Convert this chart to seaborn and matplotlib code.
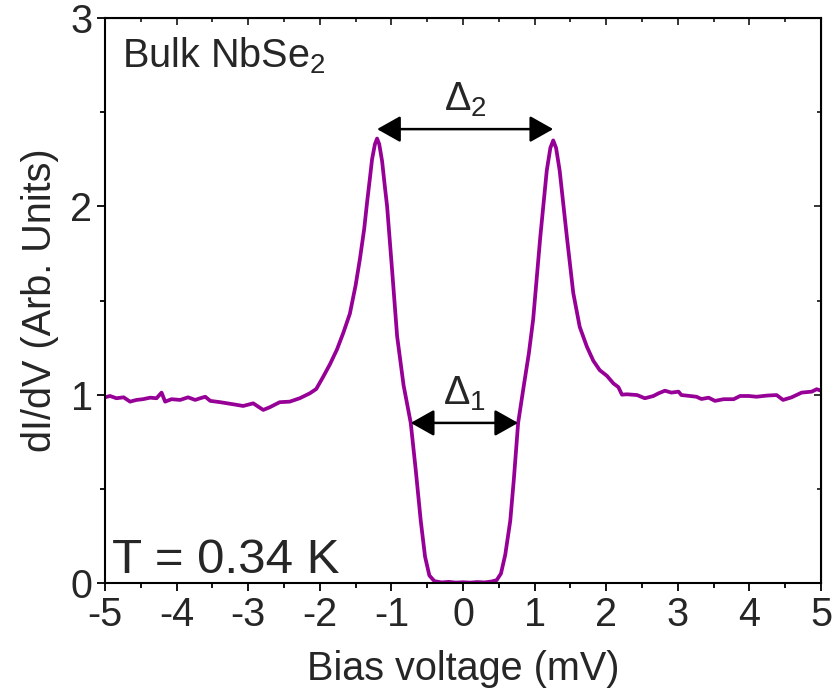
import matplotlib
matplotlib.use("Agg")
import matplotlib.pyplot as plt
import seaborn as sns
import pandas as pd
from matplotlib.ticker import MultipleLocator

bias_mv = [
    -5.00, -4.93, -4.84, -4.74, -4.65, -4.56, -4.47, -4.37, -4.28, -4.21, -4.16, -4.07,
    -3.95, -3.84, -3.74, -3.67, -3.60, -3.53, -3.39, -3.21, -3.07, -2.93, -2.79, -2.70,
    -2.56, -2.42, -2.28, -2.14, -2.05, -1.96, -1.86, -1.76, -1.67, -1.58, -1.50, -1.44,
    -1.38, -1.34, -1.30, -1.27, -1.23, -1.20, -1.17, -1.13, -1.09, -1.06, -0.99, -0.92,
    -0.83, -0.73, -0.66, -0.59, -0.53, -0.47, -0.40, -0.30, -0.20, -0.10, 0.00, 0.10,
    0.20, 0.30, 0.40, 0.47, 0.53, 0.59, 0.66, 0.71, 0.77, 0.85, 0.92, 0.98, 1.08, 1.17,
    1.22, 1.26, 1.30, 1.35, 1.45, 1.54, 1.63, 1.73, 1.82, 1.91, 2.01, 2.10, 2.17, 2.22,
    2.29, 2.43, 2.54, 2.66, 2.73, 2.82, 2.91, 3.01, 3.05, 3.17, 3.26, 3.33, 3.43, 3.52,
    3.64, 3.78, 3.87, 3.99, 4.10, 4.24, 4.38, 4.47, 4.59, 4.73, 4.87, 4.94, 5.00,
]
didv = [
    0.986, 0.993, 0.981, 0.986, 0.963, 0.972, 0.976, 0.984, 0.981, 1.011, 0.963, 0.976,
    0.972, 0.986, 0.972, 0.981, 0.989, 0.967, 0.960, 0.949, 0.940, 0.954, 0.919, 0.933,
    0.960, 0.963, 0.981, 1.007, 1.030, 1.090, 1.160, 1.240, 1.330, 1.430, 1.580, 1.720,
    1.880, 2.020, 2.150, 2.250, 2.330, 2.360, 2.330, 2.240, 2.100, 2.000, 1.660, 1.310,
    1.050, 0.850, 0.600, 0.330, 0.140, 0.040, 0.010, 0.003, 0.006, 0.002, 0.004, 0.002,
    0.005, 0.003, 0.008, 0.015, 0.050, 0.150, 0.330, 0.550, 0.850, 1.050, 1.220, 1.400,
    1.840, 2.190, 2.310, 2.350, 2.310, 2.190, 1.840, 1.540, 1.360, 1.255, 1.180, 1.130,
    1.100, 1.060, 1.040, 1.000, 1.002, 0.998, 0.981, 0.993, 1.007, 1.021, 1.011, 1.016,
    0.998, 0.993, 0.989, 0.977, 0.984, 0.967, 0.976, 0.976, 0.993, 0.993, 0.989, 0.995,
    0.998, 0.972, 0.986, 1.011, 1.016, 1.029, 1.021,
]

gap2 = [-1.20, 1.26, 2.41]   # x_left, x_right, y
gap1 = [-0.73, 0.77, 0.85]

sns.set_style("ticks")
plt.rcParams["font.family"] = ["Liberation Sans", "DejaVu Sans"]
plt.rcParams["mathtext.fontset"] = "custom"
plt.rcParams["mathtext.rm"] = "Liberation Sans"
plt.rcParams["mathtext.it"] = "Liberation Sans:italic"
plt.rcParams["mathtext.default"] = "regular"
plt.rcParams["axes.unicode_minus"] = False

df = pd.DataFrame({"bias": bias_mv, "didv": didv})

fig = plt.figure(figsize=(8.34, 6.98), dpi=100)
ax = fig.add_axes([105 / 834, 1 - 583 / 698, (821 - 105) / 834, (583 - 18) / 698])
sns.lineplot(data=df, x="bias", y="didv", ax=ax, color="#960096", lw=2.7, sort=False)

ax.set_xlim(-5, 5)
ax.set_ylim(0, 3)
ax.xaxis.set_major_locator(MultipleLocator(1))
ax.xaxis.set_minor_locator(MultipleLocator(0.5))
ax.yaxis.set_major_locator(MultipleLocator(1))
ax.yaxis.set_minor_locator(MultipleLocator(0.5))
fs = 28.5
ax.tick_params(which="major", direction="out", length=6, width=1.3, labelsize=fs, pad=3, color="black")
ax.tick_params(which="minor", direction="out", length=3.5, width=1.3, color="black")
for s in ax.spines.values():
    s.set_linewidth(1.5)
    s.set_color("black")
    s.set_visible(True)

top = ax.secondary_xaxis("top")
top.xaxis.set_major_locator(MultipleLocator(1))
top.xaxis.set_minor_locator(MultipleLocator(0.5))
top.tick_params(which="major", direction="in", length=5, width=1.3, labeltop=False)
top.tick_params(which="minor", direction="in", length=3, width=1.3)
right = ax.secondary_yaxis("right")
right.yaxis.set_major_locator(MultipleLocator(1))
right.yaxis.set_minor_locator(MultipleLocator(0.5))
right.tick_params(which="major", direction="in", length=5, width=1.3, labelright=False)
right.tick_params(which="minor", direction="in", length=3, width=1.3)

ax.set_xlabel("Bias voltage (mV)", fontsize=fs, labelpad=12)
ax.set_ylabel("dI/dV (Arb. Units)", fontsize=fs, labelpad=8)

ax.text(0.024, 0.912, "Bulk NbSe$_2$", transform=ax.transAxes, fontsize=fs,
        ha="left", va="baseline")
ax.text(0.01, 0.018, "T = 0.34 K", transform=ax.transAxes, fontsize=35.5, ha="left", va="baseline")

arrow_kw = dict(arrowstyle="<|-|>,head_length=0.8,head_width=0.45", color="black", lw=1.8,
                shrinkA=0, shrinkB=0, mutation_scale=18)
ax.annotate("", xy=(gap2[0], gap2[2]), xytext=(gap2[1], gap2[2]), arrowprops=arrow_kw)
ax.annotate("", xy=(gap1[0], gap1[2]), xytext=(gap1[1], gap1[2]), arrowprops=arrow_kw)
ax.text((gap2[0] + gap2[1]) / 2, gap2[2] + 0.10, "Δ$_2$", fontsize=fs, ha="center", va="baseline")
ax.text((gap1[0] + gap1[1]) / 2, gap1[2] + 0.10, "Δ$_1$", fontsize=fs, ha="center", va="baseline")

fig.savefig("out.png", dpi=100)
